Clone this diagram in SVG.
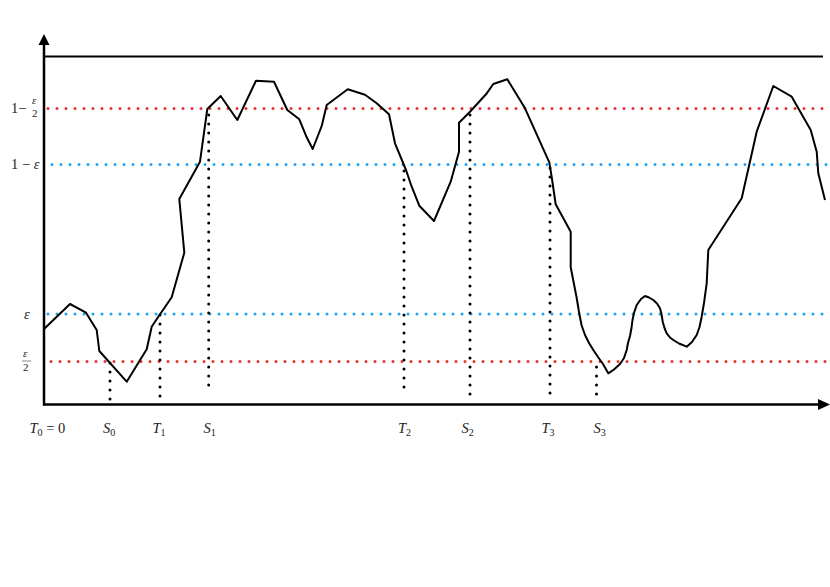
<svg xmlns="http://www.w3.org/2000/svg" width="830" height="587" viewBox="0 0 830 587">
<style>
.red{stroke:#e8322b;stroke-width:3;stroke-dasharray:0 9;stroke-linecap:round;fill:none}
.blue{stroke:#1ea5f0;stroke-width:3;stroke-dasharray:0 9;stroke-linecap:round;fill:none}
.vd{stroke:#000;stroke-width:3;stroke-dasharray:0 9;stroke-linecap:round;fill:none}
.axis{stroke:#000;stroke-width:2.5;fill:none}
.curve{stroke:#000;stroke-width:2;fill:none;stroke-linejoin:round}
text{font-family:"Liberation Serif","Times New Roman",serif;font-size:14.5px;fill:#222}
.it{font-style:italic}
.sub{font-size:10px}
.small{font-size:11px}
</style>
<rect width="830" height="587" fill="#fff"/>
<g id="levels">
<line class="red" x1="48" y1="108.5" x2="828" y2="108.5"/>
<line class="blue" x1="52" y1="164.5" x2="828" y2="164.5"/>
<line class="blue" x1="48" y1="314" x2="828" y2="314"/>
<line class="red" x1="51" y1="361.5" x2="828" y2="361.5"/>
</g>
<g id="times">
<line class="vd" x1="110" y1="363" x2="110" y2="400"/>
<line class="vd" x1="160" y1="315" x2="160" y2="397"/>
<line class="vd" x1="208.7" y1="115" x2="208.7" y2="394"/>
<line class="vd" x1="404" y1="171" x2="404" y2="394"/>
<line class="vd" x1="470" y1="115" x2="470" y2="400"/>
<line class="vd" x1="550" y1="168" x2="550" y2="394"/>
<line class="vd" x1="596.5" y1="367" x2="596.5" y2="394.5"/>
</g>
<g id="axes">
<line class="axis" x1="44" y1="44" x2="44" y2="405.5"/>
<polygon points="44,34 38.5,45 49.5,45" fill="#000"/>
<line class="axis" x1="43" y1="404.5" x2="820" y2="404.5"/>
<polygon points="830,404.5 818,399 818,410" fill="#000"/>
<line x1="44" y1="56.5" x2="823" y2="56.5" stroke="#000" stroke-width="2"/>
</g>
<g id="path">
<polyline class="curve" points="44,329 70,304 86,312.7 96.7,330 99.3,351 126.7,381.7 146.7,349.3 151.7,326.7 158.3,316.7 171.7,297.3 184.3,252.7 179.3,199 200,161.7 207.3,109 220.7,96 237.3,120 256,80.7 274,81.7 287.3,110 299.3,119.3 306.7,137.3 312.7,149 321.7,126 326.7,105 347.7,89.3 365,94.7 376.7,103.3 389,114.3 395,143.3 406,170 411.7,186.7 419.3,205.7 434,221 450.7,181.7 459,151.7 459,122.7 470,111.7 486,94.3 493.3,84 507.3,79.3 525,108.3 549.3,162.3 551.7,177 555.7,204.3 570.7,231.7 570.7,267.3 576.7,298 579,312 581.5,325 585,335 589,343 593.3,350 598,357 603,364 608.3,373.3 614,369.5 620,364 624,358 626.7,350 628,343 630,336 631.5,328 632.5,320 634,313 636.7,305 641,299 645,296 649,297.5 653.3,300 657,303.5 660,308.3 661.5,314 662.7,321.7 664.5,328 666.7,333.3 670,337.5 673.3,340 679,343.5 686.7,346.7 692,342 696.7,335 699.5,327 701.7,316.7 704,303 706.7,283.3 708.3,250 741.7,198.3 756.7,131.7 773.3,86 791.7,96.7 810.7,130 816.7,151.7 818.3,173.3 825,200"/>
</g>
<g id="ylabels">
<text x="11" y="113">1−</text>
<text class="it small" x="32" y="104">ε</text>
<text class="small" x="32" y="117">2</text>
<text x="11" y="169">1 − <tspan class="it">ε</tspan></text>
<text class="it" x="24" y="318.5">ε</text>
<text class="it small" x="23" y="357">ε</text>
<line x1="22" y1="361" x2="31" y2="361" stroke="#333" stroke-width="0.6"/>
<text class="small" x="23" y="370.5">2</text>
</g>
<g id="xlabels">
<text x="29.5" y="433"><tspan class="it">T</tspan><tspan class="sub" dy="3">0</tspan><tspan dy="-3"> = 0</tspan></text>
<text x="103" y="433"><tspan class="it">S</tspan><tspan class="sub" dy="3">0</tspan></text>
<text x="152.5" y="433"><tspan class="it">T</tspan><tspan class="sub" dy="3">1</tspan></text>
<text x="203.5" y="433"><tspan class="it">S</tspan><tspan class="sub" dy="3">1</tspan></text>
<text x="398" y="433"><tspan class="it">T</tspan><tspan class="sub" dy="3">2</tspan></text>
<text x="461.5" y="433"><tspan class="it">S</tspan><tspan class="sub" dy="3">2</tspan></text>
<text x="541.5" y="433"><tspan class="it">T</tspan><tspan class="sub" dy="3">3</tspan></text>
<text x="593.5" y="433"><tspan class="it">S</tspan><tspan class="sub" dy="3">3</tspan></text>
</g>
</svg>
